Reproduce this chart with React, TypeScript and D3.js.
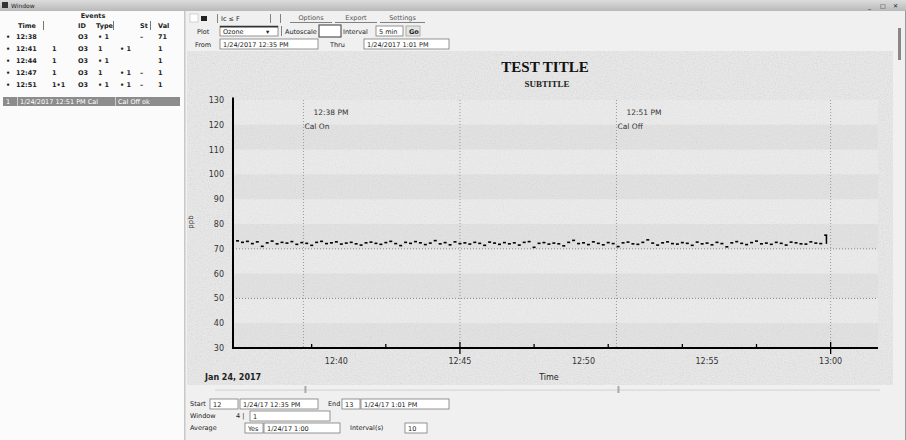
import React from "react";
import * as d3 from "d3";

// ---------- data ----------
const seriesStart = "2017-01-24T12:36:00";
const seriesStepSeconds = 12;
const ozoneValues = [
  73.2, 72.6, 73.0, 72.1, 72.8, 71.0, 72.4, 73.1, 72.0, 72.6,
  72.3, 72.9, 71.8, 72.5, 72.2, 71.4, 72.6, 73.0, 72.1, 72.4,
  72.8, 71.9, 72.3, 72.6, 72.0, 71.5, 72.4, 72.7, 72.2, 71.8,
  72.5, 73.0, 72.1, 71.3, 72.6, 72.2, 72.9, 72.4, 71.7, 72.3,
  73.3, 72.0, 72.5, 71.6, 72.8, 72.1, 72.4, 71.9, 72.6, 72.2,
  71.4, 72.7, 72.3, 71.8, 72.5, 72.0, 72.4, 71.5, 72.6, 72.9,
  70.6, 72.2, 72.5, 71.9, 72.3, 72.0, 71.2, 72.6, 73.4, 72.1,
  72.4, 71.7, 72.8, 72.2, 71.6, 72.5, 72.1, 70.9, 72.4, 72.7,
  72.0, 71.8, 72.6, 73.6, 72.3, 71.5, 72.4, 72.8, 72.1, 71.9,
  72.5, 72.2, 71.4, 72.7, 72.0, 72.3, 71.6, 72.6, 72.1, 70.8,
  72.4, 72.9, 72.2, 71.7, 72.5, 73.1, 72.0, 72.3, 71.8, 72.6,
  72.2, 71.5, 72.7, 72.4, 72.0, 71.9, 72.8, 72.3, 72.1, 75.5,
];
const yTickValues = [130, 120, 110, 100, 90, 80, 70, 60, 50, 40, 30];
const xLabelTimes = ["12:40", "12:45", "12:50", "12:55", "13:00"];
const xMajorTimes = ["12:45", "13:00"];
const xMinorTimes = ["12:39", "12:42", "12:48", "12:51", "12:54", "12:57"];
const dottedLevels = [70, 50];
const annotationTimes = ["12:38:40", "12:51:20"];
const annotationLines1 = ["12:38 PM", "12:51 PM"];
const annotationLines2 = ["Cal On", "Cal Off"];
const chartTitle = "TEST TITLE";
const chartSubtitle = "SUBTITLE";
const xAxisTitle = "Time";
const dateLabel = "Jan 24, 2017";
const yAxisTitle = "ppb";

const tableHeader = ["", "Time", "", "ID", "Type", "", "St", "Val"];
const tableRows = [
  ["•", "12:38", "", "O3", "• 1", "", "–", "71"],
  ["•", "12:41", "1", "O3", "1", "• 1", "", "1"],
  ["•", "12:44", "1", "O3", "• 1", "", "", "1"],
  ["•", "12:47", "1", "O3", "1", "• 1", "–", "1"],
  ["•", "12:51", "1•1", "O3", "• 1", "• 1", "–", "1"],
];
const selectedRow = ["1", "1/24/2017 12:51 PM  Cal", "Cal Off  ok"];

const fmt = d3.timeParse("%Y-%m-%dT%H:%M:%S");
const t = (hm: string) => fmt(`2017-01-24T${hm.length === 5 ? hm + ":00" : hm}`) as Date;

export default function App() {
  const W = 906, H = 440;
  const x = d3.scaleTime().domain([t("12:35:49"), t("13:01:55")]).range([233, 878]);
  const y = d3.scaleLinear().domain([30, 130]).range([348, 100]);
  const start = fmt(seriesStart) as Date;
  const points = ozoneValues.map((v, i) => ({ t: d3.timeSecond.offset(start, i * seriesStepSeconds), v }));

  const ui = { fontFamily: "DejaVu Sans, sans-serif", fontSize: 6.5, fill: "#222" } as const;
  const bands = d3.range(0, yTickValues.length - 1);

  const box = (x0: number, y0: number, w: number, h: number, key: string, txt?: string) => (
    <g key={key}>
      <rect x={x0} y={y0} width={w} height={h} fill="#fff" stroke="#7a7a7a" strokeWidth={0.8} />
      {txt && <text x={x0 + 3} y={y0 + h - 2.5} {...ui}>{txt}</text>}
    </g>
  );

  return (
    <div style={{ position: "fixed", left: 0, top: 0 }}>
      <svg width={W} height={H} style={{ display: "block" }}>
        <defs>
          <linearGradient id="tb" x1="0" y1="0" x2="0" y2="1">
            <stop offset="0" stopColor="#dcdcdc" />
            <stop offset="1" stopColor="#b9b9b9" />
          </linearGradient>
          <filter id="noise" x="0" y="0" width="100%" height="100%">
            <feTurbulence type="fractalNoise" baseFrequency="0.85" numOctaves="2" seed="3" />
            <feColorMatrix type="saturate" values="0" />
          </filter>
          <clipPath id="panel"><rect x={187} y={51} width={706} height={334} /></clipPath>
        </defs>

        {/* window */}
        <rect x={0} y={0} width={W} height={H} fill="#f0f0f0" />
        <rect x={0} y={0} width={W} height={11} fill="url(#tb)" />
        <rect x={2} y={2} width={6} height={6} fill="#333" />
        <text x={11} y={8} {...ui} fontSize={6}>Window</text>
        <text x={868} y={8} {...ui} fontSize={6}>_</text>
        <text x={880} y={8} {...ui} fontSize={6}>□</text>
        <text x={893} y={8} {...ui} fontSize={6}>✕</text>
        <rect x={905} y={11} width={1} height={429} fill="#999" />

        {/* left table */}
        <rect x={0} y={11} width={184} height={429} fill="#fbfbfb" />
        <text x={93} y={18} {...ui} fontWeight="bold" textAnchor="middle">Events</text>
        {[43, 113, 150].map((cx) => (
          <rect key={cx} x={cx} y={21} width={0.8} height={9} fill="#555" />
        ))}
        {tableHeader.map((h, i) => (
          <text key={i} x={[8, 18, 48, 78, 96, 118, 140, 158][i]} y={28} {...ui} fontWeight="bold">{h}</text>
        ))}
        {tableRows.map((r, ri) =>
          r.map((c, ci) => (
            <text key={`${ri}-${ci}`} x={[6, 16, 52, 78, 98, 120, 140, 158][ci]} y={39 + ri * 12} {...ui} fontWeight="bold">{c}</text>
          ))
        )}
        <rect x={3} y={97} width={177} height={9} fill="#8c8c8c" />
        <rect x={17} y={97} width={0.8} height={9} fill="#ddd" />
        <rect x={115} y={97} width={0.8} height={9} fill="#ddd" />
        <text x={6} y={104} {...ui} fill="#fff">{selectedRow[0]}</text>
        <text x={20} y={104} {...ui} fill="#fff">{selectedRow[1]}</text>
        <text x={118} y={104} {...ui} fill="#fff">{selectedRow[2]}</text>
        <rect x={184} y={11} width={1.5} height={429} fill="#c8c8c8" />

        {/* toolbar row 1 */}
        <rect x={190} y={14} width={8} height={8} fill="#fff" stroke="#bbb" strokeWidth={0.6} />
        <rect x={201} y={16} width={6} height={5} fill="#222" />
        <rect x={217} y={14} width={0.8} height={9} fill="#666" />
        <text x={221} y={21} {...ui}>Ic ≤ F</text>
        <rect x={270} y={14} width={0.8} height={9} fill="#666" />
        <rect x={280} y={14} width={0.8} height={9} fill="#666" />
        {[["Options", 290, 332], ["Export", 335, 377], ["Settings", 380, 425]].map(([s, a, b]) => (
          <g key={s as string}>
            <text x={((a as number) + (b as number)) / 2} y={20} {...ui} textAnchor="middle" fill="#555">{s}</text>
            <rect x={a as number} y={22} width={(b as number) - (a as number)} height={0.8} fill="#666" />
          </g>
        ))}

        {/* toolbar row 2 */}
        <text x={197} y={34} {...ui}>Plot</text>
        {box(220, 26, 58, 10, "cb1", "Ozone")}
        <rect x={220} y={26} width={58} height={1.5} fill="#333" />
        <text x={266} y={34} {...ui}>▾</text>
        <rect x={281} y={26} width={0.8} height={10} fill="#666" />
        <text x={285} y={34} {...ui}>Autoscale</text>
        <rect x={319} y={25} width={22} height={12} fill="#fff" stroke="#555" strokeWidth={1.2} />
        <text x={343} y={34} {...ui}>Interval</text>
        {box(376, 26, 27, 10, "cb2", "5 min")}
        <rect x={406} y={26} width={14} height={10} fill="#e4e4e4" stroke="#888" strokeWidth={0.6} />
        <text x={409} y={34} {...ui} fontWeight="bold">Go</text>

        {/* toolbar row 3 */}
        <text x={195} y={47} {...ui}>From</text>
        {box(220, 39, 98, 10, "f", "    1/24/2017 12:35 PM")}
        <text x={330} y={47} {...ui}>Thru</text>
        {box(364, 39, 85, 10, "tt", "  1/24/2017 1:01 PM")}

        {/* chart panel */}
        <g clipPath="url(#panel)">
          <rect x={187} y={51} width={706} height={334} fill="#ebebeb" />
          <rect x={187} y={51} width={706} height={334} filter="url(#noise)" opacity={0.3} />
        </g>
        {bands.map((i) => (
          <rect
            key={i}
            x={x.range()[0]}
            y={y(yTickValues[i])}
            width={x.range()[1] - x.range()[0]}
            height={y(yTickValues[i + 1]) - y(yTickValues[i])}
            fill={i % 2 === 1 ? "#d6d6d6" : "#f2f2f2"}
            opacity={0.35}
          />
        ))}
        <text x={545} y={72} textAnchor="middle" fontFamily="Liberation Serif, serif" fontWeight="bold" fontSize={15} fill="#111">{chartTitle}</text>
        <text x={547} y={87} textAnchor="middle" fontFamily="Liberation Serif, serif" fontWeight="bold" fontSize={9} fill="#222">{chartSubtitle}</text>

        {/* grid */}
        {dottedLevels.map((v) => (
          <line key={v} x1={233} x2={878} y1={y(v)} y2={y(v)} stroke="#888" strokeDasharray="1,2" strokeWidth={1} />
        ))}
        {[...xMajorTimes.map(t), ...annotationTimes.map(t)].map((d, i) => (
          <line key={i} x1={x(d)} x2={x(d)} y1={y(130)} y2={y(30)} stroke="#999" strokeDasharray="1,2" strokeWidth={1} />
        ))}
        {annotationTimes.map((a, i) => (
          <g key={a} fontFamily="DejaVu Sans, sans-serif" fontSize={7.5} fill="#333">
            <text x={x(t(a)) + 10} y={115}>{annotationLines1[i]}</text>
            <text x={x(t(a)) + 1} y={129}>{annotationLines2[i]}</text>
          </g>
        ))}

        {/* data */}
        {points.map((p, i) => (
          <rect key={i} x={x(p.t) - 1.5} y={y(p.v) - 0.8} width={3} height={1.6} fill="#000" />
        ))}
        <rect x={x(points[points.length - 1].t)} y={y(ozoneValues[ozoneValues.length - 1])} width={1.5} height={y(72) - y(75.5)} fill="#000" />

        {/* axes */}
        <line x1={233} x2={233} y1={y(131)} y2={y(30) + 1} stroke="#000" strokeWidth={2} />
        <line x1={232} x2={878} y1={y(30)} y2={y(30)} stroke="#000" strokeWidth={2} />
        {yTickValues.map((v) => (
          <text key={v} x={224} y={y(v) + 3} textAnchor="end" fontFamily="DejaVu Sans, sans-serif" fontSize={8} fill="#333">{v}</text>
        ))}
        {xMinorTimes.map((m) => (
          <line key={m} x1={x(t(m))} x2={x(t(m))} y1={y(30) - 4} y2={y(30)} stroke="#000" strokeWidth={1.3} />
        ))}
        {xMajorTimes.map((m) => (
          <line key={m} x1={x(t(m))} x2={x(t(m))} y1={y(30) - 6} y2={y(30) + 6} stroke="#000" strokeWidth={1.3} />
        ))}
        {xLabelTimes.map((m) => (
          <text key={m} x={x(t(m))} y={364} textAnchor="middle" fontFamily="DejaVu Sans, sans-serif" fontSize={8} fill="#333">{m}</text>
        ))}
        <text x={205} y={380} fontFamily="DejaVu Sans, sans-serif" fontSize={8} fontWeight="bold" fill="#222">{dateLabel}</text>
        <text x={549} y={380} textAnchor="middle" fontFamily="DejaVu Sans, sans-serif" fontSize={8} fill="#222">{xAxisTitle}</text>
        <text transform="translate(193,222) rotate(-90)" textAnchor="middle" fontFamily="DejaVu Sans, sans-serif" fontSize={7} fill="#333">{yAxisTitle}</text>

        {/* scrollbar */}
        <rect x={898} y={28} width={3} height={32} fill="#888" />

        {/* slider */}
        <rect x={215} y={389.5} width={665} height={1.2} fill="#d6d6d6" />
        {annotationTimes.map((a) => (
          <rect key={a} x={x(t(a)) + 1} y={386} width={2} height={7} fill="#aaa" />
        ))}

        {/* bottom form */}
        <text x={190} y={406} {...ui}>Start</text>
        {box(210, 399, 28, 10, "s1", "12")}
        {box(240, 399, 78, 10, "s2", "1/24/17 12:35 PM")}
        <text x={328} y={406} {...ui}>End</text>
        {box(342, 399, 18, 10, "e1", "13")}
        {box(361, 399, 88, 10, "e2", "1/24/17 1:01 PM")}
        <text x={190} y={418} {...ui}>Window</text>
        <text x={236} y={418} {...ui}>4  |</text>
        {box(250, 411, 80, 10, "w1", "           1")}
        <text x={190} y={430} {...ui}>Average</text>
        {box(245, 423, 18, 10, "a1", "Yes")}
        {box(264, 423, 76, 10, "a2", "1/24/17 1:00")}
        <text x={350} y={430} {...ui}>Interval(s)</text>
        {box(405, 423, 22, 10, "i1", "10")}
      </svg>
    </div>
  );
}
